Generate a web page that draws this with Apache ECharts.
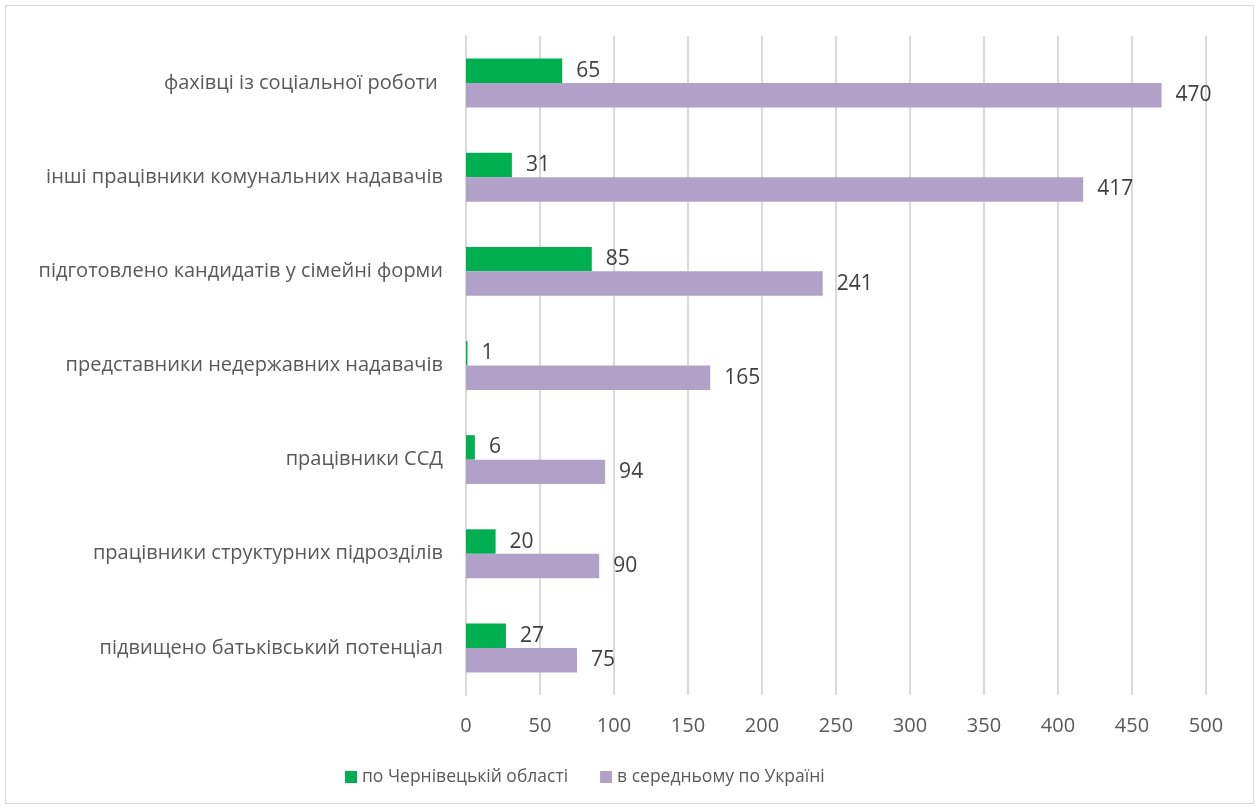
<!DOCTYPE html>
<html>
<head>
<meta charset="utf-8">
<script src="https://cdn.jsdelivr.net/npm/echarts@6/dist/echarts.min.js"></script>
<style>
  html, body { margin: 0; padding: 0; background: #fff; }
  #chart { width: 1259px; height: 811px; }
  #frame { position: absolute; left: 5px; top: 5px; width: 1247px; height: 797px; border: 1px solid #d9d9d9; pointer-events: none; }
</style>
</head>
<body>
<div id="chart"></div>
<div id="frame"></div>
<script>
// Categories, top to bottom
const categories = [
  'фахівці із соціальної роботи ',
  'інші працівники комунальних надавачів',
  'підготовлено кандидатів у сімейні форми',
  'представники недержавних надавачів',
  'працівники ССД',
  'працівники структурних підрозділів',
  'підвищено батьківський потенціал'
];
const seriesNames = ['по Чернівецькій області', 'в середньому по Україні'];
const chernivtsi = [65, 31, 85, 1, 6, 20, 27];
const ukraineAvg = [470, 417, 241, 165, 94, 90, 75];
const xTicks = { min: 0, max: 500, interval: 50 };

const FONT = '"Open Sans", "Noto Sans", sans-serif';
const chart = echarts.init(document.getElementById('chart'), null, { renderer: 'canvas' });

const labelStyle = {
  show: true,
  position: 'right',
  distance: 14,
  color: '#404040',
  fontSize: 21,
  fontFamily: FONT
};

chart.setOption({
  animation: false,
  backgroundColor: '#ffffff',
  grid: { left: 466, right: 53, top: 36, bottom: 116, containLabel: false },
  legend: {
    bottom: 20,
    left: 340,
    itemWidth: 12,
    itemHeight: 12,
    itemGap: 32,
    icon: 'rect',
    textStyle: { color: '#595959', fontSize: 17.5, fontFamily: FONT },
    data: seriesNames
  },
  xAxis: {
    type: 'value',
    min: xTicks.min,
    max: xTicks.max,
    interval: xTicks.interval,
    axisLine: { show: false },
    axisTick: { show: false },
    splitLine: { show: true, lineStyle: { color: '#d9d9d9', width: 2 } },
    axisLabel: { color: '#595959', fontSize: 20, fontFamily: FONT, margin: 21 }
  },
  yAxis: {
    type: 'category',
    inverse: true,
    data: categories,
    axisLine: { show: true, lineStyle: { color: '#d9d9d9', width: 2 } },
    axisTick: { show: false },
    axisLabel: { color: '#595959', fontSize: 20, fontFamily: FONT, margin: 23 }
  },
  series: [
    {
      name: seriesNames[0],
      type: 'bar',
      data: chernivtsi,
      itemStyle: { color: '#00b050' },
      barGap: '0%',
      barCategoryGap: '48%',
      label: labelStyle
    },
    {
      name: seriesNames[1],
      type: 'bar',
      data: ukraineAvg,
      itemStyle: { color: '#b1a0c7' },
      barGap: '0%',
      barCategoryGap: '48%',
      label: labelStyle
    }
  ]
});
</script>
</body>
</html>
